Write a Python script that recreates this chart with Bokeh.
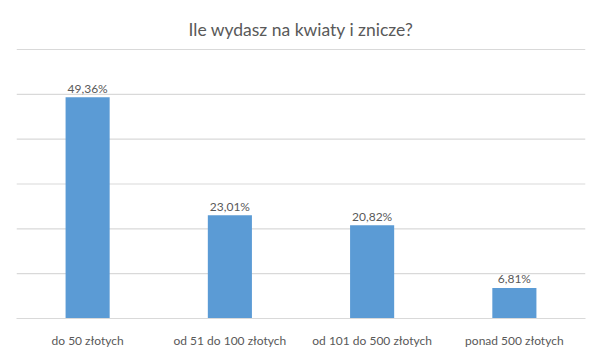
from bokeh.plotting import figure
from bokeh.models import ColumnDataSource, FactorRange
from bokeh.core.properties import value
from bokeh.embed import file_html
from bokeh.resources import INLINE

title_text = "Ile wydasz na kwiaty i znicze?"
categories = ["do 50 złotych", "od 51 do 100 złotych", "od 101 do 500 złotych", "ponad 500 złotych"]
values = [49.36, 23.01, 20.82, 6.81]
labels = ["49,36%", "23,01%", "20,82%", "6,81%"]
grid_ticks = [10, 20, 30, 40, 50, 60]

FONT = "Lato"
GRAY = "#595959"

# layout: baseline at 318px, 60% line near pixel row 49
PX_PER_UNIT = 269 / 60
Y_TOP = 318 / PX_PER_UNIT
TITLE_Y = (318 - 29) / PX_PER_UNIT

src = ColumnDataSource(dict(cat=categories, val=values, lab=labels))
n = len(categories)
gsrc = ColumnDataSource(dict(x0=[0] * len(grid_ticks), x1=[n] * len(grid_ticks), y=grid_ticks))

p = figure(width=600, height=354, x_range=FactorRange(*categories, range_padding=0),
           y_range=(0, Y_TOP), output_backend="svg", toolbar_location=None,
           min_border_left=16, min_border_right=15, min_border_top=0, min_border_bottom=36)

p.outline_line_color = None
p.ygrid.grid_line_color = None
p.xgrid.grid_line_color = None
p.segment(x0="x0", y0="y", x1="x1", y1="y", source=gsrc, line_color="#D9D9D9", line_width=1.2)
p.vbar(x="cat", top="val", width=0.31, source=src, fill_color="#5B9BD5", line_color=None)
p.text(x="cat", y="val", text="lab", source=src, text_align="center", text_baseline="alphabetic",
       y_offset=-9, text_font=value(FONT), text_font_size="12px", text_color=GRAY)
p.text(x=[n / 2], y=[TITLE_Y], text=[title_text], text_align="center",
       text_baseline="alphabetic", text_font=value(FONT), text_font_size="17.5px",
       text_color=GRAY)

p.yaxis.visible = False
p.xaxis.axis_line_color = "#D9D9D9"
p.xaxis.major_tick_line_color = None
p.xaxis.minor_tick_line_color = None
p.xaxis.major_label_text_font = FONT
p.xaxis.major_label_text_font_size = "12px"
p.xaxis.major_label_text_color = GRAY
p.xaxis.major_label_standoff = 8

open("out.html", "w").write(file_html(p, INLINE))
